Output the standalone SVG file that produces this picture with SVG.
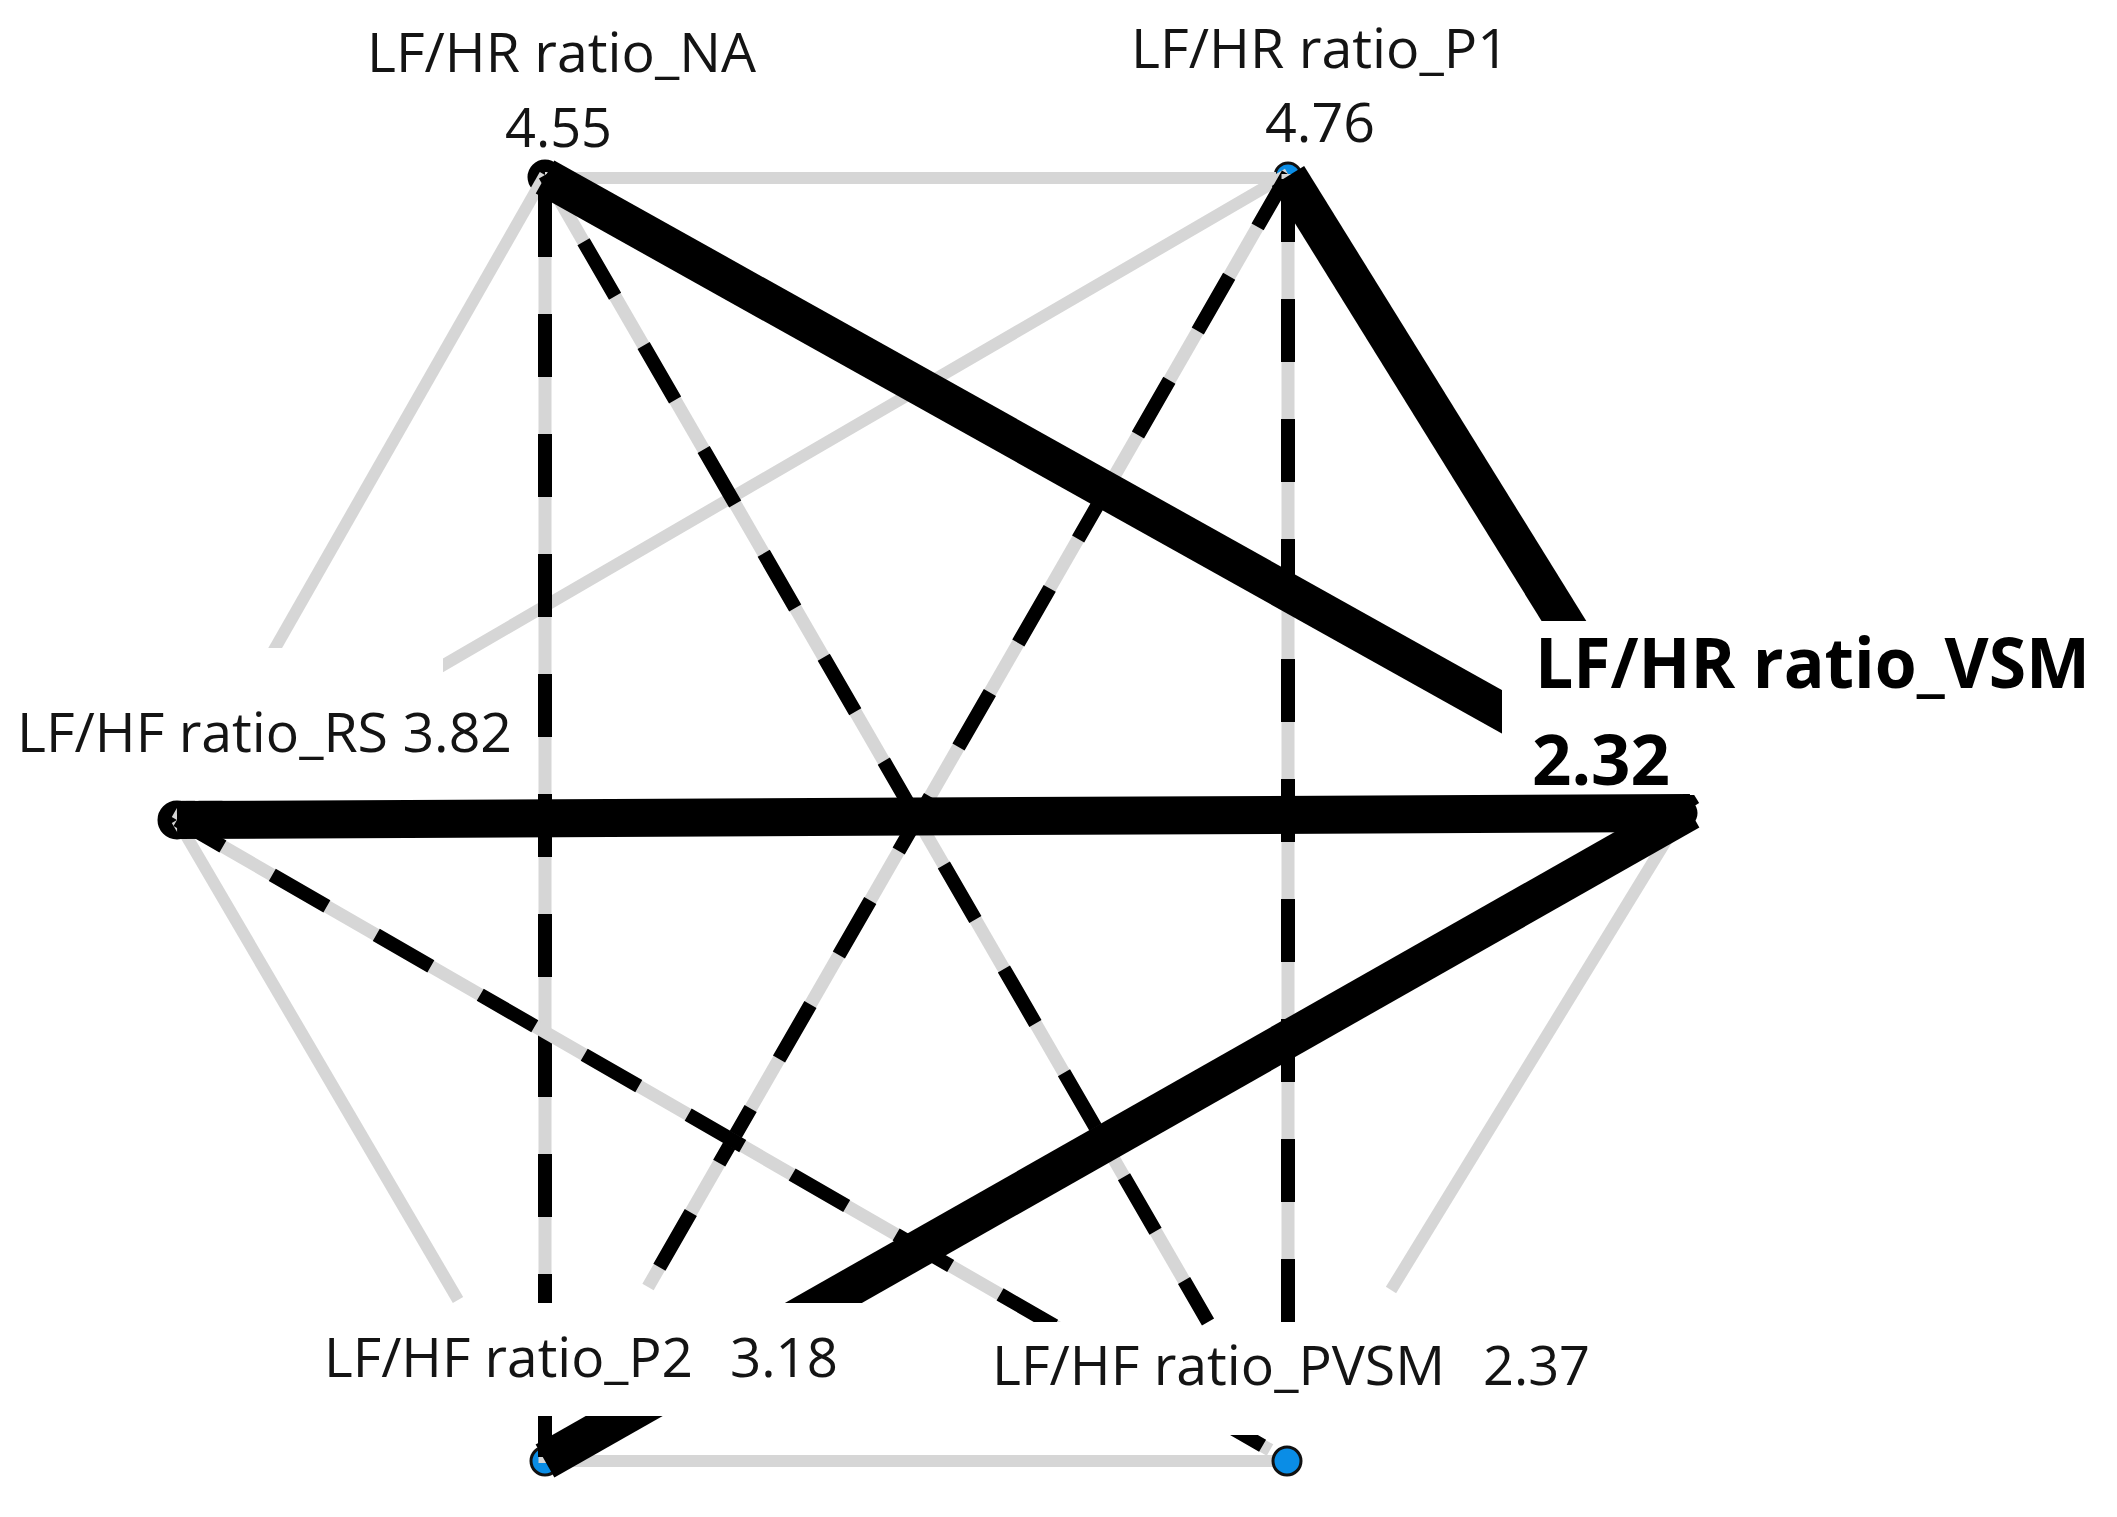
<svg xmlns="http://www.w3.org/2000/svg" width="2117" height="1517" viewBox="0 0 2117 1517">
<style>
.lbl{font-family:"Open Sans","Liberation Sans",sans-serif;font-size:54px;fill:#141414}
.big{font-family:"Open Sans","Liberation Sans",sans-serif;font-size:69px;font-weight:bold;fill:#000}
.dot{fill:#0a8de6;stroke:#111;stroke-width:3}
.dotk{fill:#000;stroke:#000;stroke-width:3}
.g{stroke:#d6d6d6;stroke-width:12;fill:none}
.gb{stroke:#d6d6d6;stroke-width:13;fill:none}
.d{stroke:#000;stroke-width:14;stroke-dasharray:63 57;fill:none}
.t{stroke:#000;stroke-width:38;stroke-linecap:butt;fill:none}
</style>
<defs>
<clipPath id="cRS"><path clip-rule="evenodd" d="M0 0H2117V1517H0Z M0 648H443V800H0Z"/></clipPath>
<clipPath id="cVSM"><path clip-rule="evenodd" d="M0 0H2117V1517H0Z M1502 621H2117V795H1502Z"/></clipPath>
<clipPath id="cP2"><path clip-rule="evenodd" d="M0 0H2117V1517H0Z M430 1303H890V1416H430Z"/></clipPath>
<clipPath id="cPVSM"><path clip-rule="evenodd" d="M0 0H2117V1517H0Z M980 1322H1620V1435H980Z"/></clipPath>
</defs>
<rect width="2117" height="1517" fill="#fff"/>
<g id="node-NA">
<circle class="dotk" cx="545" cy="177" r="16"/>
<text class="lbl" x="367" y="72" textLength="389" lengthAdjust="spacingAndGlyphs">LF/HR ratio_NA</text>
<text class="lbl" x="505" y="147" textLength="107" lengthAdjust="spacingAndGlyphs">4.55</text>
</g>
<g id="node-P1">
<circle class="dot" cx="1288" cy="176" r="13"/>
<text class="lbl" x="1131" y="68" textLength="378" lengthAdjust="spacingAndGlyphs">LF/HR ratio_P1</text>
<text class="lbl" x="1265" y="142" textLength="110" lengthAdjust="spacingAndGlyphs">4.76</text>
</g>
<g id="node-RS">
<circle class="dotk" cx="177" cy="820" r="18"/>
<text class="lbl" x="17" y="752" textLength="495" lengthAdjust="spacingAndGlyphs">LF/HF ratio_RS 3.82</text>
</g>
<g id="node-VSM">
<circle class="dotk" cx="1683" cy="813" r="13"/>
<text class="big" x="1535" y="688" textLength="555" lengthAdjust="spacingAndGlyphs">LF/HR ratio_VSM</text>
<text class="big" x="1532" y="785" textLength="138" lengthAdjust="spacingAndGlyphs">2.32</text>
</g>
<g id="node-P2">
<circle class="dot" cx="545" cy="1461" r="14"/>
<text class="lbl" x="324" y="1377" textLength="369" lengthAdjust="spacingAndGlyphs">LF/HF ratio_P2</text>
<text class="lbl" x="730" y="1377" textLength="108" lengthAdjust="spacingAndGlyphs">3.18</text>
</g>
<g id="connectors">
<!-- light solid edges -->
<line class="g" x1="545" y1="178" x2="1276" y2="178"/>
<line class="g" x1="545" y1="175" x2="177" y2="820" clip-path="url(#cRS)"/>
<line class="g" x1="1288" y1="174" x2="177" y2="820" clip-path="url(#cRS)"/>
<line class="g" x1="177" y1="820" x2="458" y2="1300"/>
<line class="g" x1="1683" y1="813" x2="1391" y2="1290"/>
<line class="g" x1="557" y1="1461" x2="1273" y2="1461"/>
<!-- dashed edges -->
<g clip-path="url(#cP2)">
<line class="gb" x1="545" y1="175" x2="545" y2="1463"/>
<line class="d" x1="545" y1="175" x2="545" y2="1463" stroke-dashoffset="101"/>
</g>
<line class="gb" x1="1288" y1="174" x2="648" y2="1287"/>
<line class="d" x1="1288" y1="174" x2="648" y2="1287" stroke-dashoffset="2"/>
<line class="gb" x1="1288" y1="174" x2="1288" y2="1322"/>
<line class="d" x1="1288" y1="174" x2="1288" y2="1322" stroke-dashoffset="115"/>
<line class="gb" x1="545" y1="175" x2="1208" y2="1322"/>
<line class="d" x1="545" y1="175" x2="1208" y2="1322" stroke-dashoffset="43"/>
<g clip-path="url(#cPVSM)">
<line class="gb" x1="177" y1="820" x2="1270" y2="1450"/>
<line class="d" x1="177" y1="820" x2="1270" y2="1450" stroke-dashoffset="10"/>
</g>
<!-- heavy solid edges -->
<line class="t" x1="545" y1="177" x2="1683" y2="813" clip-path="url(#cVSM)"/>
<line class="t" x1="1288" y1="176" x2="1683" y2="813" clip-path="url(#cVSM)"/>
<line class="t" x1="177" y1="820" x2="1690" y2="813"/>
<line class="t" x1="1690" y1="811" x2="545" y2="1461" clip-path="url(#cP2)"/>
</g>
<g id="node-PVSM">
<circle class="dot" cx="1287" cy="1461" r="14"/>
<text class="lbl" x="992" y="1385" textLength="453" lengthAdjust="spacingAndGlyphs">LF/HF ratio_PVSM</text>
<text class="lbl" x="1483" y="1385" textLength="107" lengthAdjust="spacingAndGlyphs">2.37</text>
</g>
</svg>
